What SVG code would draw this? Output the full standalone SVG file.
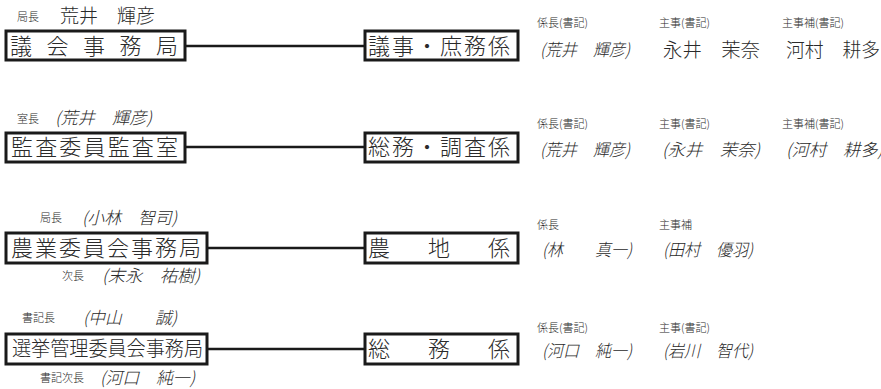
<svg xmlns="http://www.w3.org/2000/svg" width="881" height="389" viewBox="0 0 881 389">
<style>
text{font-family:"Noto Sans CJK JP","Noto Sans",sans-serif;fill:#2a2a2a;font-weight:300}
.box{fill:#fff;stroke:#1a1a1a;stroke-width:3}
.bt{font-size:22px}
.bt4{font-size:20px}
.lab{font-size:11px}
.nm{font-size:19px}
.it{font-size:17px;font-style:italic}
.con{stroke:#1a1a1a;stroke-width:2.5;fill:none}
</style>
<rect width="881" height="389" fill="#fff"/>
<g id="connectors">
<line class="con" x1="186" y1="46" x2="365" y2="46"/>
<line class="con" x1="186" y1="147" x2="365" y2="147"/>
<line class="con" x1="208" y1="248" x2="365" y2="248"/>
<line class="con" x1="208" y1="349" x2="365" y2="349"/>
</g>
<g id="node-gikai">
<text class="lab" x="17" y="21">局長</text>
<text class="nm" x="60" y="23" textLength="95" lengthAdjust="spacingAndGlyphs">荒井　輝彦</text>
<rect class="box" x="6" y="31" width="179" height="29"/>
<text class="bt" x="10" y="54" textLength="168" lengthAdjust="spacing">議会事務局</text>
</g>
<g id="node-gikai-shomu">
<rect class="box" x="365" y="31" width="153" height="29"/>
<text class="bt" x="368" y="54" textLength="142" lengthAdjust="spacing">議事・庶務係</text>
<text class="lab" x="537" y="27">係長(書記)</text>
<text class="lab" x="659" y="27">主事(書記)</text>
<text class="lab" x="782" y="27">主事補(書記)</text>
<text class="it" x="540" y="56" textLength="90" lengthAdjust="spacingAndGlyphs">(荒井　輝彦)</text>
<text class="nm" x="663" y="57" textLength="97" lengthAdjust="spacingAndGlyphs">永井　茉奈</text>
<text class="nm" x="786" y="57" textLength="94" lengthAdjust="spacingAndGlyphs">河村　耕多</text>
</g>
<g id="node-kansa">
<text class="lab" x="17" y="123">室長</text>
<text class="it" x="55" y="124" textLength="97" lengthAdjust="spacingAndGlyphs">(荒井　輝彦)</text>
<rect class="box" x="6" y="133" width="179" height="29"/>
<text class="bt" x="11" y="155" textLength="167" lengthAdjust="spacing">監査委員監査室</text>
</g>
<g id="node-kansa-somu">
<rect class="box" x="365" y="133" width="153" height="29"/>
<text class="bt" x="368" y="155" textLength="142" lengthAdjust="spacing">総務・調査係</text>
<text class="lab" x="537" y="128">係長(書記)</text>
<text class="lab" x="659" y="128">主事(書記)</text>
<text class="lab" x="782" y="128">主事補(書記)</text>
<text class="it" x="540" y="156" textLength="90" lengthAdjust="spacingAndGlyphs">(荒井　輝彦)</text>
<text class="it" x="662" y="156" textLength="98" lengthAdjust="spacingAndGlyphs">(永井　茉奈)</text>
<text class="it" x="786" y="156" textLength="97" lengthAdjust="spacingAndGlyphs">(河村　耕多)</text>
</g>
<g id="node-nogyo">
<text class="lab" x="40" y="222">局長</text>
<text class="it" x="82" y="224" textLength="95" lengthAdjust="spacingAndGlyphs">(小林　智司)</text>
<rect class="box" x="6" y="233" width="201" height="30"/>
<text class="bt" x="11" y="256" textLength="190" lengthAdjust="spacing">農業委員会事務局</text>
<text class="lab" x="62" y="280">次長</text>
<text class="it" x="102" y="282" textLength="98" lengthAdjust="spacingAndGlyphs">(末永　祐樹)</text>
</g>
<g id="node-nochi">
<rect class="box" x="365" y="233" width="153" height="30"/>
<text class="bt" x="368" y="256" textLength="142" lengthAdjust="spacing">農地係</text>
<text class="lab" x="537" y="229">係長</text>
<text class="lab" x="659" y="229">主事補</text>
<text class="it" x="542" y="256" textLength="90" lengthAdjust="spacingAndGlyphs">(林　　真一)</text>
<text class="it" x="663" y="256" textLength="90" lengthAdjust="spacingAndGlyphs">(田村　優羽)</text>
</g>
<g id="node-senkyo">
<text class="lab" x="22" y="322">書記長</text>
<text class="it" x="83" y="324" textLength="94" lengthAdjust="spacingAndGlyphs">(中山　　誠)</text>
<rect class="box" x="6" y="334" width="201" height="30"/>
<text class="bt4" x="12" y="356" textLength="191" lengthAdjust="spacingAndGlyphs">選挙管理委員会事務局</text>
<text class="lab" x="40" y="382">書記次長</text>
<text class="it" x="100" y="384" textLength="95" lengthAdjust="spacingAndGlyphs">(河口　純一)</text>
</g>
<g id="node-senkyo-somu">
<rect class="box" x="365" y="334" width="153" height="30"/>
<text class="bt" x="368" y="357" textLength="142" lengthAdjust="spacing">総務係</text>
<text class="lab" x="537" y="332">係長(書記)</text>
<text class="lab" x="659" y="332">主事(書記)</text>
<text class="it" x="542" y="357" textLength="90" lengthAdjust="spacingAndGlyphs">(河口　純一)</text>
<text class="it" x="663" y="357" textLength="90" lengthAdjust="spacingAndGlyphs">(岩川　智代)</text>
</g>
</svg>
